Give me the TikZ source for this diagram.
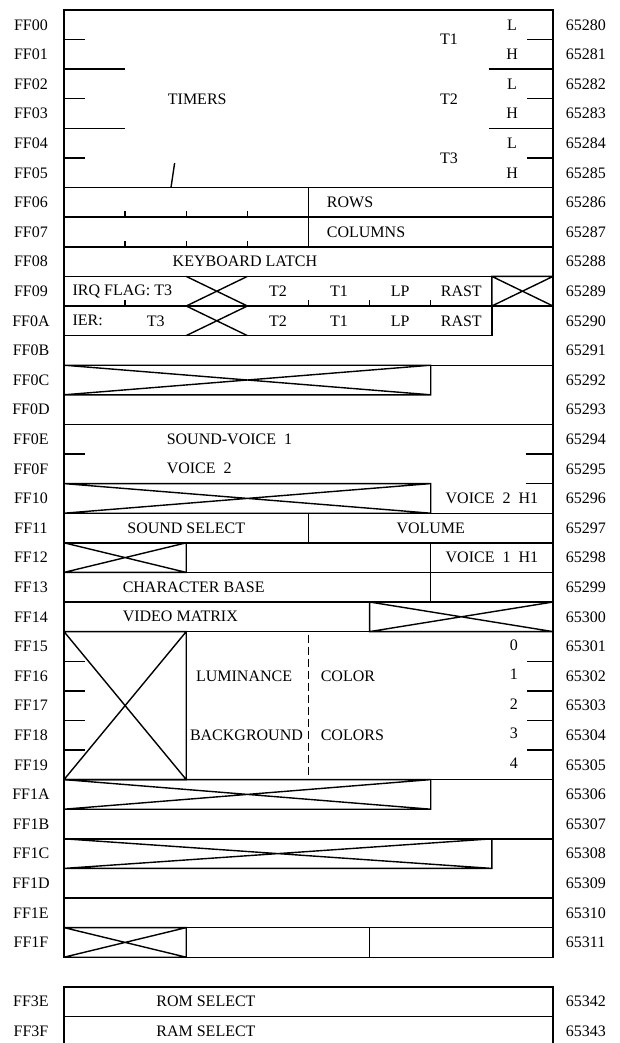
\documentclass[tikz,border=0pt]{standalone}
\usepackage{fontspec}
\setmainfont{Liberation Serif}
\newcommand\xcross[4]{\draw (#1,#2) rectangle (#3,#4) (#1,#2) -- (#3,#4) (#1,#4) -- (#3,#2);}
\begin{document}
\begin{tikzpicture}[x=61.125pt,y=-29.6pt,line width=1.4pt,
  txt/.style={inner sep=0pt,font=\fontsize{16}{18}\selectfont},
  lt/.style={txt,anchor=west},
  dsh/.style={dash pattern=on 8pt off 4pt}]
\useasboundingbox (-1.04703,-0.33784) rectangle (9.09612,34.89865);
% address labels
\foreach \a [count=\i from 0] in {FF00,FF01,FF02,FF03,FF04,FF05,FF06,FF07,FF08,FF09,FF0A,FF0B,FF0C,FF0D,FF0E,FF0F,FF10,FF11,FF12,FF13,FF14,FF15,FF16,FF17,FF18,FF19,FF1A,FF1B,FF1C,FF1D,FF1E,FF1F}{
  \node[txt] (l\i) at (-0.54,\i+0.5) {\a};
  \node[lt] (r\i) at (8.2,\i+0.5) {\the\numexpr65280+\i\relax};
}
\node[txt] (l33) at (-0.54,33.5) {FF3E};
\node[txt] (l34) at (-0.54,34.5) {FF3F};
\node[lt] (r33) at (8.2,33.5) {65342};
\node[lt] (r34) at (8.2,34.5) {65343};
% TIMERS
\draw (0,0) rectangle (8,6);
\foreach \y in {1,3,5}{\draw (0,\y) -- (0.35,\y); \draw (7.58,\y) -- (8,\y);}
\foreach \y in {2,4}{\draw (0,\y) -- (1,\y); \draw (6.95,\y) -- (8,\y);}
\draw (1.75,6) -- (1.81,5.17);
\node[txt] (timers) at (2.18,3) {TIMERS};
\foreach \t/\y in {1/1,2/3,3/5}{\node[txt] (t\t) at (6.3,\y) {T\t};}
\foreach \y in {0,2,4}{\node[txt] (lo\y) at (7.33,\y+0.5) {L};\node[txt] (hi\y) at (7.33,\y+1.5) {H};}
% ROWS / COLUMNS
\foreach \y/\s in {6/ROWS,7/COLUMNS}{
  \draw (0,\y) rectangle (8,\y+1) (4,\y) -- (4,\y+1);
  \foreach \x in {1,2,3}{\draw (\x,\y+1) -- (\x,\y+0.8);}
  \node[lt] (n\s) at (4.29,\y+0.5) {\s};
}
% KEYBOARD LATCH
\draw (0,8) rectangle (8,9);
\node[txt] (kbd) at (2.96,8.5) {KEYBOARD LATCH};
% IRQ FLAG
\draw (0,9) rectangle (8,10);
\foreach \x in {1,4,5,6}{\draw (\x,10) -- (\x,9.8);}
\draw (2,9) -- (3,10) (2,10) -- (3,9);
\xcross{7}{9}{8}{10}
\node[lt] (irq) at (0.13,9.5) {IRQ FLAG: T3};
% IER
\draw (0,10) rectangle (7,11);
\draw (2,10) -- (3,11) (2,11) -- (3,10);
\node[lt] (ier) at (0.13,10.5) {IER:};
\node[txt] (ier3) at (1.5,10.5) {T3};
\foreach \y in {9,10}{
  \node[txt] (a\y) at (3.5,\y+0.5) {T2};
  \node[txt] (b\y) at (4.5,\y+0.5) {T1};
  \node[txt] (c\y) at (5.5,\y+0.5) {LP};
  \node[txt] (d\y) at (6.5,\y+0.5) {RAST};
}
% FF0B
\draw (8,10) -- (8,12) -- (0,12) -- (0,11);
% FF0C/FF0D
\draw (0,12) rectangle (8,14);
\xcross{0}{12}{6}{13}
% SOUND
\draw (0,14) rectangle (8,17);
\draw (0,15) -- (0.35,15) (7.55,15) -- (8,15) (7.55,16) -- (8,16);
\xcross{0}{16}{6}{17}
\node[lt] (sv1) at (1.67,14.5) {SOUND-VOICE\ \ 1};
\node[lt] (sv2) at (1.67,15.5) {VOICE\ \ 2};
\node[txt] (v2h) at (7,16.5) {VOICE\ \ 2\ \ H1};
% SOUND SELECT / VOLUME
\draw (0,17) rectangle (8,18) (4,17) -- (4,18);
\node[txt] (ssel) at (2,17.5) {SOUND SELECT};
\node[txt] (vol) at (6,17.5) {VOLUME};
% FF12
\draw (0,18) rectangle (8,19) (6,18) -- (6,19);
\xcross{0}{18}{2}{19}
\node[txt] (v1h) at (7,18.5) {VOICE\ \ 1\ \ H1};
% FF13
\draw (0,19) rectangle (8,20) (6,19) -- (6,20);
\node[lt] (cb) at (0.95,19.5) {CHARACTER BASE};
% FF14
\draw (0,20) rectangle (8,21);
\xcross{5}{20}{8}{21}
\node[lt] (vm) at (0.95,20.5) {VIDEO MATRIX};
% FF15-FF19
\draw (0,21) rectangle (8,26);
\xcross{0}{21}{2}{26}
\foreach \y in {22,23,24,25}{\draw (0,\y) -- (0.35,\y) (7.58,\y) -- (8,\y);}
\draw[dsh] (4,21.1) -- (4,26);
\node[lt] (lum) at (2.15,22.5) {LUMINANCE};
\node[lt] (col) at (4.19,22.5) {COLOR};
\node[lt] (bg) at (2.05,24.5) {BACKGROUND};
\node[lt] (cols) at (4.19,24.5) {COLORS};
\foreach \n in {0,...,4}{\node[txt] (num\n) at (7.36,21.45+\n) {\n};}
% FF1A/FF1B
\draw (0,26) rectangle (8,28);
\xcross{0}{26}{6}{27}
% FF1C/FF1D
\draw (0,28) rectangle (8,30);
\xcross{0}{28}{7}{29}
% FF1E
\draw (0,30) rectangle (8,31);
% FF1F
\draw (0,31) rectangle (8,32) (5,31) -- (5,32);
\xcross{0}{31}{2}{32}
% ROM/RAM
\draw (0,35) -- (0,33) -- (8,33) -- (8,35) (0,34) -- (8,34);
\node[lt] (rom) at (1.5,33.5) {ROM SELECT};
\node[lt] (ram) at (1.5,34.5) {RAM SELECT};
\end{tikzpicture}
\end{document}
